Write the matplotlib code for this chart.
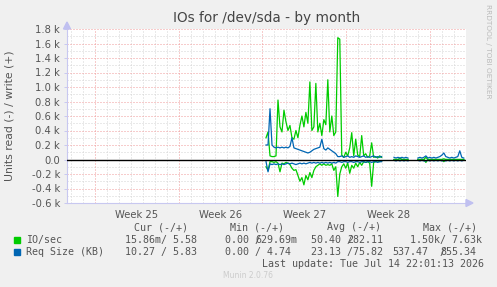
import numpy as np
import matplotlib
matplotlib.use("Agg")
import matplotlib.pyplot as plt
from matplotlib.patches import Rectangle, Polygon

# ---------------- data ----------------
week_labels = ["Week 25", "Week 26", "Week 27", "Week 28"]
week_starts = [0, 7, 14, 21, 28]          # days since start of Week 25
ytick_values = [-0.6, -0.4, -0.2, 0.0, 0.2, 0.4, 0.6, 0.8, 1.0, 1.2, 1.4, 1.6, 1.8]  # in k

main_start_day = 14.3      # first sample of the main block (days)
tail_start_day = 25.0      # first sample of the tail block (days)
step_day = 1 / 6           # 4-hour samples

# IO/sec write (+), main block (k)
io_write_main = [0.30, 0.38, 0.05, 0.04, 0.04, 0.05, 0.82, 0.45, 0.38, 0.68,
                 0.52, 0.40, 0.47, 0.30, 0.28, 0.40, 0.30, 0.47, 0.60, 0.45,
                 0.65, 0.50, 1.07, 0.40, 0.45, 1.05, 0.38, 0.50, 0.33, 0.55,
                 0.48, 1.10, 0.38, 0.60, 0.33, 0.38, 1.68, 1.66, 0.06, 0.03,
                 0.10, 0.05, 0.16, 0.37, 0.05, 0.28, 0.06, 0.04, 0.33, 0.05,
                 0.08, 0.03, 0.05, 0.23, 0.03, 0.04, 0.02, 0.05, 0.03]
# IO/sec read (-), main block (k)
io_read_main = [0.10, 0.15, 0.03, 0.03, 0.04, 0.03, 0.05, 0.17, 0.05, 0.06,
                0.04, 0.05, 0.07, 0.12, 0.15, 0.14, 0.22, 0.30, 0.25, 0.35,
                0.22, 0.28, 0.18, 0.25, 0.15, 0.10, 0.08, 0.06, 0.08, 0.06,
                0.08, 0.07, 0.08, 0.06, 0.15, 0.10, 0.51, 0.20, 0.10, 0.06,
                0.12, 0.05, 0.19, 0.08, 0.12, 0.05, 0.10, 0.04, 0.08, 0.03,
                0.04, 0.03, 0.05, 0.37, 0.04, 0.03, 0.02, 0.03, 0.02]
# Req Size write (+), main block (k)
req_write_main = [0.20, 0.20, 0.70, 0.20, 0.17, 0.16, 0.17, 0.16, 0.17, 0.16,
                  0.17, 0.16, 0.18, 0.30, 0.16, 0.15, 0.14, 0.13, 0.12, 0.11,
                  0.10, 0.09, 0.10, 0.12, 0.14, 0.15, 0.16, 0.17, 0.28, 0.15,
                  0.13, 0.16, 0.14, 0.12, 0.10, 0.08, 0.04, 0.04, 0.05, 0.03,
                  0.04, 0.05, 0.03, 0.04, 0.03, 0.05, 0.04, 0.03, 0.04, 0.05,
                  0.03, 0.04, 0.03, 0.04, 0.05, 0.03, 0.04, 0.03, 0.04]
# Req Size read (-), main block (k)
req_read_main = [0.03, 0.17, 0.06, 0.07, 0.06, 0.07, 0.06, 0.07, 0.06, 0.07,
                 0.06, 0.05, 0.06, 0.05, 0.06, 0.07, 0.06, 0.05, 0.06, 0.05,
                 0.06, 0.05, 0.04, 0.05, 0.04, 0.05, 0.04, 0.05, 0.04, 0.05,
                 0.04, 0.05, 0.04, 0.05, 0.04, 0.05, 0.03, 0.03, 0.04, 0.03,
                 0.03, 0.04, 0.03, 0.03, 0.04, 0.03, 0.03, 0.04, 0.03, 0.03,
                 0.04, 0.03, 0.03, 0.04, 0.03, 0.03, 0.04, 0.03, 0.03]

nan = float("nan")
io_write_tail = [0.00, 0.00, 0.00, 0.02, 0.00, 0.00, 0.00, 0.00, nan, nan,
                 nan, nan, 0.00, 0.00, 0.00, 0.00, 0.03, 0.00, 0.00, 0.00,
                 0.00, 0.00, 0.00, 0.00, 0.00, 0.01, 0.00, 0.00, 0.00, 0.00,
                 0.00, 0.00, 0.00, 0.00, 0.00, 0.00]
io_read_tail = [0.00, 0.00, 0.00, 0.01, 0.00, 0.00, 0.00, 0.00, nan, nan,
                nan, nan, 0.00, 0.00, 0.00, 0.00, 0.04, 0.00, 0.00, 0.00,
                0.00, 0.00, 0.00, 0.00, 0.00, 0.03, 0.00, 0.00, 0.00, 0.00,
                0.00, 0.00, 0.00, 0.00, 0.00, 0.00]
req_write_tail = [0.03, 0.02, 0.03, 0.02, 0.03, 0.02, 0.03, 0.02, nan, nan,
                  nan, nan, 0.02, 0.03, 0.02, 0.03, 0.05, 0.02, 0.03, 0.02,
                  0.03, 0.02, 0.03, 0.04, 0.06, 0.09, 0.04, 0.03, 0.02, 0.03,
                  0.02, 0.03, 0.04, 0.12, 0.03, 0.02]
req_read_tail = [0.01, 0.02, 0.01, 0.02, 0.01, 0.02, 0.01, 0.02, nan, nan,
                 nan, nan, 0.01, 0.02, 0.01, 0.02, 0.02, 0.01, 0.02, 0.01,
                 0.02, 0.01, 0.02, 0.01, 0.02, 0.01, 0.02, 0.01, 0.02, 0.01,
                 0.02, 0.01, 0.02, 0.01, 0.02, 0.01]

# ---------------- figure ----------------
W, H = 497, 287
fig = plt.figure(figsize=(W / 100, H / 100), dpi=100, facecolor="#f0f0f0")


def fx(px):
    return px / W


def fy(py):
    return 1 - py / H


L, R, T, B = 67, 466, 29, 203
ax = fig.add_axes([fx(L), fy(B), fx(R) - fx(L), fy(T) - fy(B)])
ax.set_facecolor("white")

x_lo = (L - 95) / 11.96
x_hi = (R - 95) / 11.96
ax.set_xlim(x_lo, x_hi)
ax.set_ylim(-0.6, 1.8)

green = "#00cc00"
blue = "#0066b3"

t_main = main_start_day + step_day * np.arange(len(io_write_main))
t_tail = tail_start_day + step_day * np.arange(len(io_write_tail))
t = np.concatenate([t_main, [np.nan], t_tail])


def join(a, b):
    return np.concatenate([np.asarray(a, float), [np.nan], np.asarray(b, float)])


io_w = join(io_write_main, io_write_tail)
io_r = join(io_read_main, io_read_tail)
rq_w = join(req_write_main, req_write_tail)
rq_r = join(req_read_main, req_read_tail)

ax.plot(t, io_w, color=green, lw=0.9, zorder=3)
ax.plot(t, -io_r, color=green, lw=0.9, zorder=3)
ax.plot(t, rq_w, color=blue, lw=0.9, zorder=4)
ax.plot(t, -rq_r, color=blue, lw=0.9, zorder=4)
ax.axhline(0, color="black", lw=1.0, zorder=5)

# grid (dotted)
minor_c = "#d4d4d4"
major_c = "#f09a9a"
dash = (0, (1.0, 2.0))
gkw = dict(lw=0.72, ls=dash)
for d in np.arange(np.ceil(x_lo), x_hi, 1):
    if d not in week_starts:
        ax.axvline(d, color=minor_c, zorder=1, **gkw)
for yv in np.arange(-0.5, 1.8, 0.2):
    ax.axhline(yv, color=minor_c, zorder=1, **gkw)
for d in week_starts:
    ax.axvline(d, color=major_c, zorder=2, **gkw)
for yv in ytick_values:
    if yv != 0:
        ax.axhline(yv, color=major_c, zorder=2, **gkw)

# axes styling
axis_c = "#c8c8f0"
for s in ["top", "right"]:
    ax.spines[s].set_visible(False)
for s in ["left", "bottom"]:
    ax.spines[s].set_color(axis_c)
    ax.spines[s].set_linewidth(0.8)

ax.set_yticks(ytick_values)
ax.set_yticklabels(["0.0" if v == 0 else f"{v:.1f} k" for v in ytick_values])
ax.set_xticks([w + 3.5 for w in week_starts[:4]])
ax.set_xticklabels(week_labels)
ax.tick_params(axis="both", colors=axis_c, labelcolor="#555555", labelsize=7.2,
               length=2, width=0.7)
ax.tick_params(axis="x", length=0, pad=5)
ax.tick_params(axis="y", pad=3)

# arrows
fig.patches.append(Polygon([[fx(L - 3.5), fy(29)], [fx(L + 3.5), fy(29)], [fx(L), fy(22)]],
                           closed=True, transform=fig.transFigure, color="#c0c0f0"))
fig.patches.append(Polygon([[fx(R), fy(B - 3.5)], [fx(R), fy(B + 3.5)], [fx(R + 7), fy(B)]],
                           closed=True, transform=fig.transFigure, color="#c0c0f0"))

# title and labels
fig.text(fx(267), fy(18), "IOs for /dev/sda - by month", ha="center", va="center",
         fontsize=9.8, color="#444444")
fig.text(fx(10), fy(116), "Units read (-) / write (+)", rotation=90, ha="center",
         va="center", fontsize=7.8, color="#555555")
fig.text(fx(488), fy(4), "RRDTOOL / TOBI OETIKER", rotation=270, ha="center",
         va="top", fontsize=5.3, color="#bbbbbb")

# legend
mono = dict(family="DejaVu Sans Mono", fontsize=7.2, color="#555555", va="center", ha="left")
fig.text(fx(134), fy(227), "Cur (-/+)", **mono)
fig.text(fx(230), fy(227), "Min (-/+)", **mono)
fig.text(fx(327), fy(227), "Avg (-/+)", **mono)
fig.text(fx(423), fy(227), "Max (-/+)", **mono)

y1, y2 = 240, 252
fig.patches.append(Rectangle((fx(14), fy(y1 + 3)), fx(6), 6 / H, transform=fig.transFigure,
                             color=green))
fig.patches.append(Rectangle((fx(14), fy(y2 + 3)), fx(6), 6 / H, transform=fig.transFigure,
                             color=blue))
fig.text(fx(26.5), fy(y1), "IO/sec", **mono)
fig.text(fx(125), fy(y1), "15.86m/ 5.58", **mono)
fig.text(fx(225), fy(y1), "0.00 /", **mono)
fig.text(fx(255), fy(y1), "629.69m", **mono)
fig.text(fx(311), fy(y1), "50.40 /", **mono)
fig.text(fx(347), fy(y1), "282.11", **mono)
fig.text(fx(410), fy(y1), "1.50k/ 7.63k", **mono)

fig.text(fx(26.5), fy(y2), "Req Size (KB)", **mono)
fig.text(fx(125), fy(y2), "10.27 / 5.83", **mono)
fig.text(fx(225), fy(y2), "0.00 / 4.74", **mono)
fig.text(fx(311), fy(y2), "23.13 /75.82", **mono)
fig.text(fx(392), fy(y2), "537.47", **mono)
fig.text(fx(440), fy(y2), "/", **mono)
fig.text(fx(440), fy(y2), "855.34", **mono)

fig.text(fx(262), fy(264), "Last update: Tue Jul 14 22:01:13 2026", **mono)
fig.text(fx(248), fy(276), "Munin 2.0.76", ha="center", va="center", fontsize=5.5,
         color="#cccccc")

fig.savefig("out.png", dpi=100, facecolor=fig.get_facecolor())
